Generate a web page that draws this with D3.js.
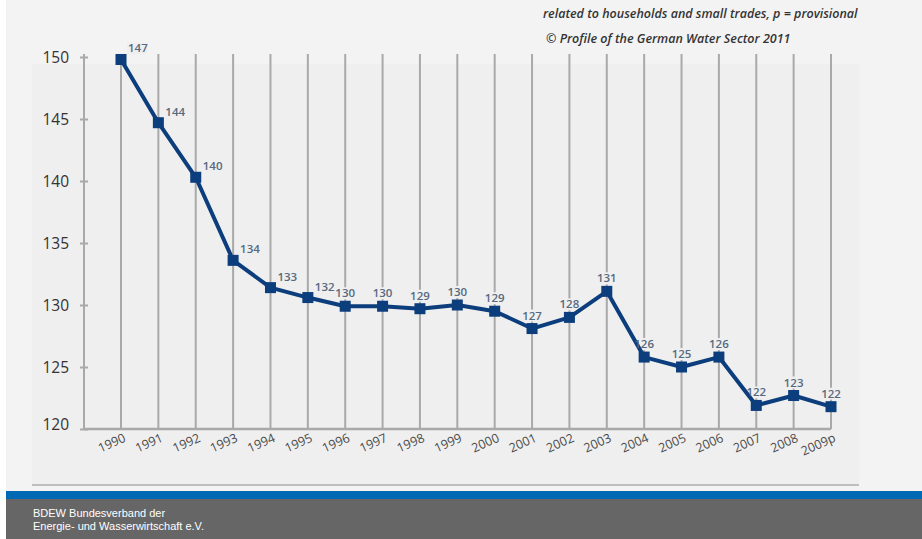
<!DOCTYPE html>
<html>
<head>
<meta charset="utf-8">
<script src="https://cdn.jsdelivr.net/npm/d3@7"></script>
<style>
  html, body { margin: 0; padding: 0; background: #ffffff; }
  svg { display: block; }
</style>
</head>
<body>
<svg id="chart" width="922" height="539"></svg>
<script>
// ---- data ----
const years = ["1990","1991","1992","1993","1994","1995","1996","1997","1998","1999",
               "2000","2001","2002","2003","2004","2005","2006","2007","2008","2009p"];
// plotted positions as drawn in the picture
const plotted = [149.8,144.7,140.3,133.6,131.4,130.6,129.9,129.9,129.7,130.0,
                 129.5,128.1,129.0,131.1,125.8,125.0,125.8,121.9,122.7,121.8];
// printed value labels
const labels = [147,144,140,134,133,132,130,130,129,130,
                129,127,128,131,126,125,126,122,123,122];
const yTicks = [120,125,130,135,140,145,150];
const noteLines = ["related to households and small trades, p = provisional",
                   "© Profile of the German Water Sector 2011"];
const footerLines = ["BDEW Bundesverband der", "Energie- und Wasserwirtschaft e.V."];

// ---- layout ----
const svg = d3.select("#chart");
const W = 922, H = 539;
const panelColor = "#efefef";
const lineColor = "#0c3d7c";
const gridColor = "#a9a9a9";

svg.append("rect").attr("x", 6).attr("y", 0).attr("width", W - 6).attr("height", H).attr("fill", "#f3f3f3");
svg.append("rect").attr("x", 32).attr("y", 64).attr("width", 827).attr("height", 420).attr("fill", panelColor);
svg.append("line").attr("x1", 32).attr("x2", 859).attr("y1", 485).attr("y2", 485)
  .attr("stroke", "#bdbdbd").attr("stroke-width", 2);

const x = d3.scalePoint().domain(years).range([121, 831]);
const y = d3.scaleLinear().domain([120, 150]).range([429, 57]);

const g = svg.append("g");

// vertical grid lines
g.selectAll("line.grid").data(years).join("line")
  .attr("class", "grid")
  .attr("x1", d => x(d)).attr("x2", d => x(d))
  .attr("y1", y(150) - 3).attr("y2", y(120))
  .attr("stroke", gridColor).attr("stroke-width", 2);

// y axis
const yAxis = d3.axisLeft(y).tickValues(yTicks).tickSize(0).tickPadding(0);
const ya = g.append("g").attr("transform", `translate(84,0)`).call(yAxis);
ya.select(".domain").remove();
ya.selectAll(".tick text").remove();
ya.selectAll(".tick").append("line").attr("x1", -4).attr("x2", 4)
  .attr("stroke", gridColor).attr("stroke-width", 2);
ya.selectAll(".tick").append("text")
  .attr("x", -15).attr("dy", d => d === 120 ? "0.05em" : "0.35em").attr("text-anchor", "end")
  .attr("font-family", "'Open Sans', sans-serif").attr("font-size", 15.5).attr("font-weight", 500)
  .attr("fill", "#333333").text(d => d);
g.append("line").attr("x1", 84).attr("x2", 84).attr("y1", y(150) - 3).attr("y2", y(120))
  .attr("stroke", gridColor).attr("stroke-width", 2);

// x axis
const xAxis = d3.axisBottom(x).tickSize(0).tickPadding(0);
const xa = g.append("g").attr("transform", `translate(0,${y(120)})`).call(xAxis);
xa.select(".domain").remove();
xa.selectAll(".tick text")
  .attr("font-family", "'Open Sans', sans-serif").attr("font-size", 12.5)
  .attr("fill", "#4a4a4a").attr("text-anchor", "end")
  .attr("transform", "translate(5,12) rotate(-24)")
  .attr("y", 0).attr("dy", 0);
g.append("line").attr("x1", 84).attr("x2", x(years[years.length - 1]))
  .attr("y1", y(120)).attr("y2", y(120))
  .attr("stroke", gridColor).attr("stroke-width", 2.5);

// data
const data = years.map((yr, i) => ({ yr, v: plotted[i], lab: labels[i], i }));
const labPos = d => {
  const px = x(d.yr), py = y(d.v);
  return d.i <= 5 ? [px + 7, py - 7] : [px, py - 9];
};

// label backgrounds (mask grid lines only)
g.selectAll("rect.labbg").data(data).join("rect")
  .attr("class", "labbg")
  .attr("x", d => labPos(d)[0] + (d.i <= 5 ? -1 : -10))
  .attr("y", d => labPos(d)[1] - 10)
  .attr("width", 20).attr("height", 12).attr("fill", panelColor);

// line
const line = d3.line().x(d => x(d.yr)).y(d => y(d.v));
g.append("path").datum(data).attr("d", line)
  .attr("fill", "none").attr("stroke", lineColor).attr("stroke-width", 4)
  .attr("stroke-linejoin", "round");

// markers
g.selectAll("rect.mk").data(data).join("rect")
  .attr("class", "mk")
  .attr("x", d => x(d.yr) - 5.5).attr("y", d => y(d.v) - 5.5)
  .attr("width", 11).attr("height", 11).attr("fill", lineColor);

// value labels
g.selectAll("text.lab").data(data).join("text")
  .attr("class", "lab")
  .attr("x", d => labPos(d)[0]).attr("y", d => labPos(d)[1])
  .attr("text-anchor", d => d.i <= 5 ? "start" : "middle")
  .attr("font-family", "'Open Sans', sans-serif").attr("font-size", 11.5)
  .attr("font-weight", 600).attr("fill", "#56697f")
  .text(d => d.lab);

// note text top right
svg.selectAll("text.note").data(noteLines).join("text")
  .attr("class", "note")
  .attr("x", (d, i) => i === 0 ? 543 : 546)
  .attr("y", (d, i) => i === 0 ? 18 : 43)
  .attr("font-family", "'Open Sans', sans-serif").attr("font-size", 12.5)
  .attr("font-style", "italic").attr("font-weight", 600)
  .attr("fill", "#333333").text(d => d);

// footer
svg.append("rect").attr("x", 6).attr("y", 491).attr("width", W - 6).attr("height", 8).attr("fill", "#0069b4");
svg.append("rect").attr("x", 6).attr("y", 499).attr("width", W - 6).attr("height", 40).attr("fill", "#666666");
svg.selectAll("text.foot").data(footerLines).join("text")
  .attr("class", "foot")
  .attr("x", 33).attr("y", (d, i) => 517 + i * 13)
  .attr("font-family", "'Liberation Sans', Arial, sans-serif").attr("font-size", 11)
  .attr("fill", "#ffffff").text(d => d);
</script>
</body>
</html>
